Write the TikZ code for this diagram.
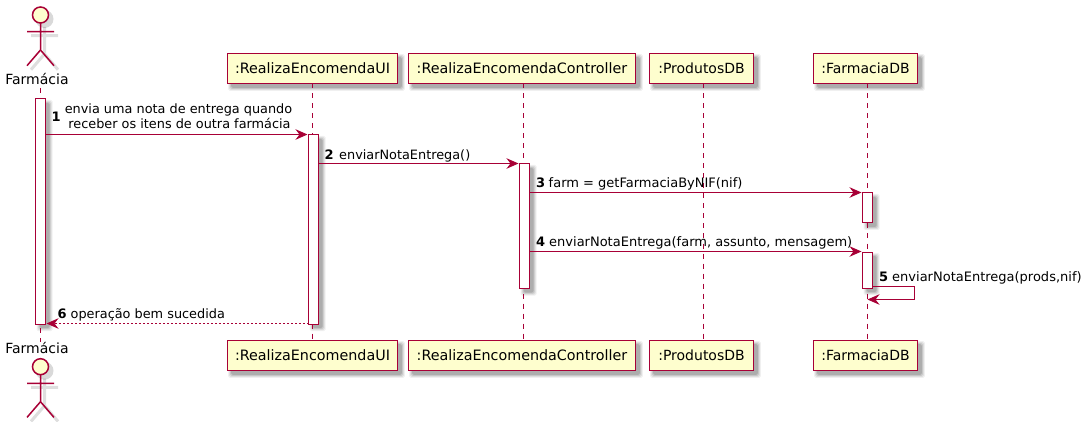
\documentclass[tikz,border=0pt]{standalone}
\usepackage{fontspec}
\setmainfont{DejaVu Sans}
\usetikzlibrary{arrows.meta,backgrounds,calc}
\definecolor{pline}{HTML}{A80036}
\definecolor{pfill}{HTML}{FEFECE}
\tikzset{
  partfont/.style={font=\fontsize{14}{16}\selectfont},
  widefont/.style={font=\fontsize{14.3}{16}\selectfont},
  tightfont/.style={font=\fontsize{12.85}{15}\selectfont},
  partbox/.style={draw=pline,fill=pfill,line width=1.7pt,minimum height=30pt,inner sep=0pt,partfont},
  actbox/.style={draw=pline,fill=white,line width=1pt,minimum width=10pt,inner sep=0pt,anchor=north},
  lifeline/.style={draw=pline,line width=1pt,dash pattern=on 5pt off 5pt},
  msg/.style={draw=pline,line width=1pt,-{Stealth[length=12pt,width=10.5pt,inset=4pt,fill=pline]}},
  retmsg/.style={msg,dash pattern=on 2pt off 2pt},
  msgtext/.style={inner sep=0pt,anchor=base west,text=black},
  actorline/.style={draw=pline,line width=1.5pt},
  actorshadow/.style={draw=black,opacity=.13,line width=3pt}
}
\newcommand{\softrect}[1]{%
  \foreach \d/\o in {2.5/.06,1.5/.08,.5/.10,-.5/.12}{%
    \fill[black,opacity=\o,rounded corners=1.5pt]
      ($(#1.north west)+(4-\d,4-\d)$) rectangle ($(#1.south east)+(4+\d,4+\d)$);}}
\newcommand{\actorfig}[2]{%
  \begin{scope}[shift={(#1+4,#2+4)}]
    \fill[black,opacity=.15] (0,0) circle (9);
    \draw[actorshadow] (0,8)--(0,35) (-13.5,16.7)--(13.5,16.7) (-13.5,50.7)--(0,35)--(13.5,50.7);
  \end{scope}
  \begin{scope}[shift={(#1,#2)}]
    \draw[actorline,fill=pfill] (0,0) circle (8);
    \draw[actorline] (0,8)--(0,35) (-13.5,16.7)--(13.5,16.7) (-13.5,50.7)--(0,35)--(13.5,50.7);
  \end{scope}}
\begin{document}
\begin{tikzpicture}[x=1pt,y=-1pt,font=\fontsize{13}{15}\selectfont]
\useasboundingbox (0,0) rectangle (1084,422);

% lifeline anchors
\coordinate (farmTopL) at (40.5,88);
\coordinate (farmBotL) at (40.5,342);

% participants
\node[partbox,widefont,minimum width=170pt] (uiTop) at (312.5,68.5) {:RealizaEncomendaUI\hspace{1.5pt}};
\node[partbox,widefont,minimum width=227pt] (ctlTop) at (522,68.5) {:RealizaEncomendaController};
\node[partbox,minimum width=104pt] (prodTop) at (701.5,68.5) {:ProdutosDB};
\node[partbox,minimum width=104pt] (farmaTop) at (865.5,68.5) {:FarmaciaDB};
\node[partbox,widefont,minimum width=170pt] (uiBot) at (312.5,355.5) {:RealizaEncomendaUI\hspace{1.5pt}};
\node[partbox,widefont,minimum width=227pt] (ctlBot) at (522,355.5) {:RealizaEncomendaController};
\node[partbox,minimum width=104pt] (prodBot) at (701.5,355.5) {:ProdutosDB};
\node[partbox,minimum width=104pt] (farmaBot) at (865.5,355.5) {:FarmaciaDB};

% lifelines
\draw[lifeline] (farmTopL) -- (farmBotL);
\coordinate (uiLT) at (312.5,83.5); \coordinate (uiLB) at (312.5,340.5);
\coordinate (ctlLT) at (523.5,83.5); \coordinate (ctlLB) at (523.5,340.5);
\coordinate (prodLT) at (703.5,83.5); \coordinate (prodLB) at (703.5,340.5);
\coordinate (farmaLT) at (867.5,83.5); \coordinate (farmaLB) at (867.5,340.5);
\draw[lifeline] (uiLT) -- (uiLB);
\draw[lifeline] (ctlLT) -- (ctlLB);
\draw[lifeline] (prodLT) -- (prodLB);
\draw[lifeline] (farmaLT) -- (farmaLB);

% actors
\actorfig{40.5}{15}
\actorfig{40.5}{366.7}
\node[inner sep=0pt,anchor=base,partfont] (farmLabelTop) at (37,85) {Farmácia};
\node[inner sep=0pt,anchor=base,partfont] (farmLabelBot) at (37,353.2) {Farmácia};

% activations
\node[actbox,minimum height=225pt] (aFarm) at (40.5,98.5) {};
\node[actbox,minimum height=189pt] (aUI) at (313.5,134.5) {};
\node[actbox,minimum height=124.5pt] (aCtl) at (524.5,163.5) {};
\node[actbox,minimum height=30pt] (aDb1) at (867.5,192.5) {};
\node[actbox,minimum height=36pt] (aDb2) at (867.5,251.5) {};

% soft shadows and page ground
\begin{scope}[on background layer]
  \fill[white] (0,0) rectangle (1084,422);
  \softrect{uiTop}\softrect{ctlTop}\softrect{prodTop}\softrect{farmaTop}
  \softrect{uiBot}\softrect{ctlBot}\softrect{prodBot}\softrect{farmaBot}
  \softrect{aFarm}\softrect{aUI}\softrect{aCtl}\softrect{aDb1}\softrect{aDb2}
\end{scope}

% message endpoints
\coordinate (m1s) at (45.5,134.5); \coordinate (m1e) at (307.5,134.5);
\coordinate (m2s) at (318.5,163.5); \coordinate (m2e) at (518.5,163.5);
\coordinate (m3s) at (529.5,192.5); \coordinate (m3e) at (861.5,192.5);
\coordinate (m4s) at (529.5,251.5); \coordinate (m4e) at (861.5,251.5);
\coordinate (m5s) at (872.5,286.5); \coordinate (m5a) at (914.5,286.5);
\coordinate (m5b) at (914.5,299.5); \coordinate (m5e) at (867.5,299.5);
\coordinate (m6s) at (308.5,323.5); \coordinate (m6e) at (46.5,323.5);

\draw[msg] (m1s) -- (m1e);
\draw[msg] (m2s) -- (m2e);
\draw[msg] (m3s) -- (m3e);
\draw[msg] (m4s) -- (m4e);
\draw[msg] (m5s) -- (m5a) -- (m5b) -- (m5e);
\draw[retmsg] (m6s) -- (m6e);

% message labels
\node[msgtext] (n1) at (51.5,121.5) {\bfseries 1};
\node[inner sep=0pt,anchor=base,tightfont] (t1a) at (178.5,114) {envia uma nota de entrega quando};
\node[inner sep=0pt,anchor=base,tightfont] (t1b) at (179.5,129) {receber os itens de outra farmácia};
\node[msgtext] (n2) at (324.5,160) {\bfseries 2};
\node[msgtext,tightfont] (t2) at (339,160) {enviarNotaEntrega()};
\node[msgtext] (n3) at (536,188) {\bfseries 3};
\node[msgtext] (t3) at (548.5,188) {farm = getFarmaciaByNIF(nif)};
\node[msgtext] (n4) at (536,247) {\bfseries 4};
\node[msgtext] (t4) at (549,247) {enviarNotaEntrega(farm, assunto, mensagem)};
\node[msgtext] (n5) at (879,281) {\bfseries 5};
\node[msgtext] (t5) at (892,281) {enviarNotaEntrega(prods,nif)};
\node[msgtext] (n6) at (57.5,318) {\bfseries 6};
\node[msgtext,tightfont] (t6) at (70.5,318) {operação bem sucedida};
\end{tikzpicture}
\end{document}
